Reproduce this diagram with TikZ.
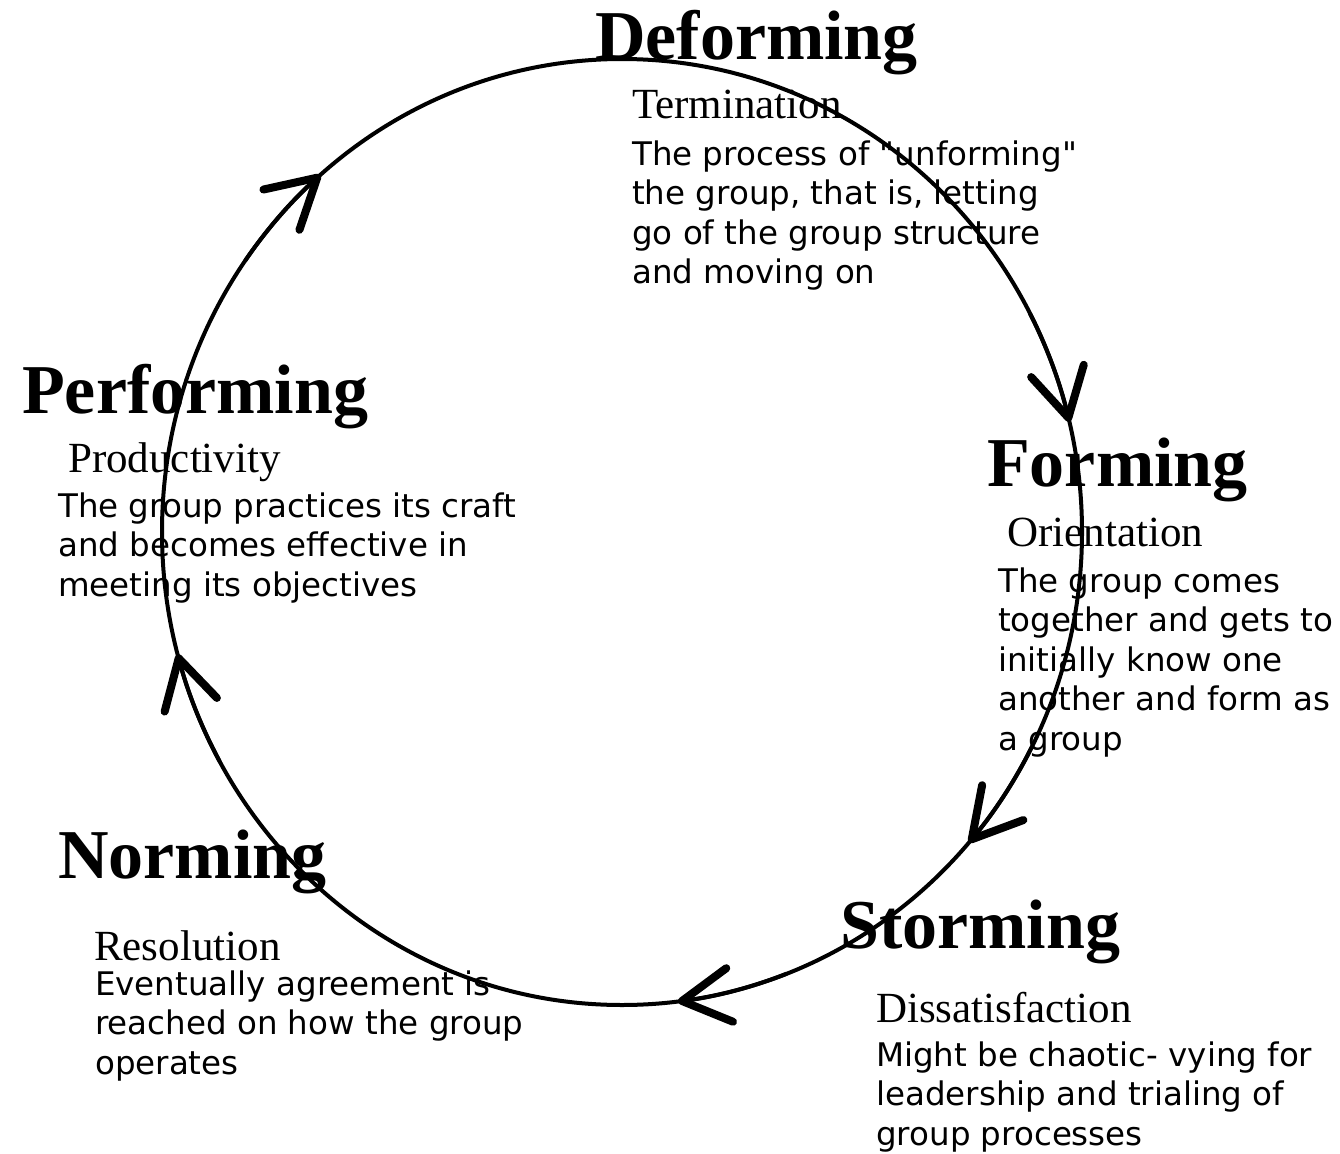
\documentclass[tikz,border=0pt]{standalone}
\usepackage{fontspec}
\setmainfont{Liberation Serif}
\newfontfamily\bodyfont{DejaVu Sans}
\usetikzlibrary{arrows.meta}
\begin{document}
\begin{tikzpicture}[x=1pt,y=-1pt,
  title/.style={anchor=base west,inner sep=0pt,font=\fontsize{70}{80}\selectfont\bfseries},
  sub/.style={anchor=base west,inner sep=0pt,font=\fontsize{43}{50}\selectfont},
  body/.style={anchor=base west,inner sep=0pt,align=left,font=\bodyfont\fontsize{32.5}{39.6}\selectfont},
  ring/.style={line width=4pt},
  arr/.style={line width=4pt,-{Straight Barb[length=48pt,width=54pt,line width=8pt,round]}}]
\useasboundingbox (0,0) rectangle (1340,1153);
\fill[white] (0,0) rectangle (1340,1153);
\coordinate (c) at (622,532);
% Deforming
\node[title] (deft) at (595,60) {Deforming};
\node[sub] (defs) at (632,118) {Termination};
\node[body] (defb) at (632,283.8) {The process of "unforming"\\the group, that is, letting\\go of the group structure\\and moving on};
% Forming
\node[title] (fort) at (987,486) {Forming};
\node[sub] (fors) at (1007,546) {Orientation};
\node[body] (forb) at (998,750.4) {The group comes\\together and gets to\\initially know one\\another and form as\\a group};
% Storming
\node[title] (stot) at (840,948) {Storming};
\node[sub] (stos) at (876,1022) {Dissatisfaction};
\node[body] (stob) at (876,1145.2) {Might be chaotic- vying for\\leadership and trialing of\\group processes};
% Norming
\node[title] (nort) at (58,878) {Norming};
\node[sub] (nors) at (94,960) {Resolution};
\node[body] (norb) at (95,1074.2) {Eventually agreement is\\reached on how the group\\operates};
% Performing
\node[title] (pert) at (22,413) {Performing};
\node[sub] (pers) at (68,472) {Productivity};
\node[body] (perb) at (58,596.2) {The group practices its craft\\and becomes effective in\\meeting its objectives};
% cycle
\draw[ring] (c) ellipse [x radius=460, y radius=473];
\foreach \a in {-13.5,41,83,165,229}{
  \draw[arr,shift={(c)}] (\a-14:460 and 473) arc[start angle=\a-14, end angle=\a, x radius=460, y radius=473];
}
\end{tikzpicture}
\end{document}
